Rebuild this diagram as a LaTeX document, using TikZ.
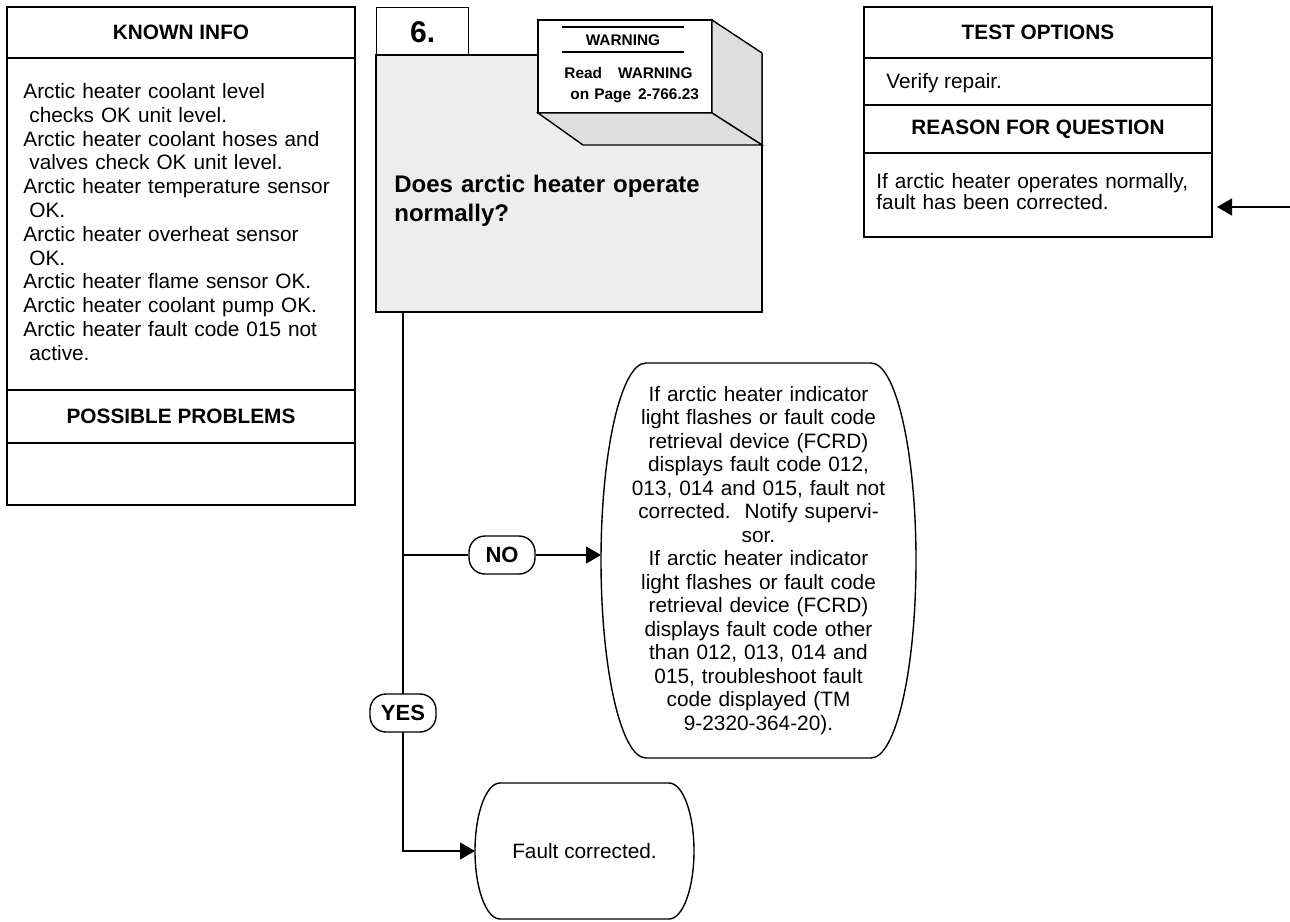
\documentclass[tikz,border=0pt]{standalone}
\usepackage{fontspec}
\setmainfont{Liberation Sans}
\usetikzlibrary{arrows.meta,positioning,calc}
\tikzset{cell/.style={draw,line width=0.7pt,minimum width=174pt,inner sep=0pt,outer sep=0pt,font=\fontsize{10.4}{12}\bfseries},
txt/.style={inner sep=0pt,align=left,font=\fontsize{10.4}{11.9}\selectfont},
lbl/.style={draw,fill=white,line width=0.7pt,rounded corners=8pt,minimum width=33pt,minimum height=19pt,inner sep=0pt,font=\fontsize{11}{13}\bfseries},
term/.style={inner sep=0pt,outer sep=0pt,align=center,font=\fontsize{10.4}{11.75}\selectfont},
warntxt/.style={inner sep=0pt,font=\fontsize{7.7}{10.5}\bfseries},
edge/.style={line width=0.7pt},
arr/.style={edge,-{Triangle[length=7.5pt,width=8.5pt]}}}
\newcommand\cont{\hspace*{3pt}}
% flat top and bottom, half-ellipse sides: node, side radius, half height
\newcommand\termoutline[3]{\draw[edge] ([xshift=#2]#1.north west) -- ([xshift=-#2]#1.north east)
  arc[start angle=90,end angle=-90,x radius=#2,y radius=#3] -- ([xshift=#2]#1.south west)
  arc[start angle=270,end angle=90,x radius=#2,y radius=#3] -- cycle;}
\begin{document}
\begin{tikzpicture}[x=0.5pt,y=-0.5pt]
\useasboundingbox (0,0) rectangle (1290,921);
% left panel
\node[cell,anchor=north west,minimum height=25.5pt](known)at(7,7){KNOWN INFO};
\node[cell,below=0pt of known,minimum height=166pt](knownbody){};
\node[cell,below=0pt of knownbody,minimum height=26.5pt](possible){POSSIBLE PROBLEMS};
\node[cell,below=0pt of possible,minimum height=31pt](possiblebody){};
\node[txt,text width=165pt,anchor=base west](knowntext)at([xshift=8pt,yshift=-20.25pt]knownbody.north west){Arctic heater coolant level\\\cont checks OK unit level.\\Arctic heater coolant hoses and\\\cont valves check OK unit level.\\Arctic heater temperature sensor\\\cont OK.\\Arctic heater overheat sensor\\\cont OK.\\Arctic heater flame sensor OK.\\Arctic heater coolant pump OK.\\Arctic heater fault code 015 not\\\cont active.};
% right panel
\node[cell,anchor=north west,minimum height=25.5pt](testhead)at(864,7){TEST OPTIONS};
\node[cell,below=0pt of testhead,minimum height=23.5pt](verify){};
\node[cell,below=0pt of verify,minimum height=24pt](reason){REASON FOR QUESTION};
\node[cell,below=0pt of reason,minimum height=42pt](reasonbody){};
\node[txt,anchor=base west](verifytext)at([xshift=11pt,yshift=-3.5pt]verify.west){Verify repair.};
\node[txt,text width=170pt,anchor=base west,font=\fontsize{10.4}{10.6}\selectfont](reasontext)at([xshift=6pt,yshift=-17.75pt]reasonbody.north west){If arctic heater operates normally,\\fault has been corrected.};
% step 6 with its warning tag
\node[draw,line width=0.7pt,anchor=north west,minimum width=46pt,minimum height=24pt,inner sep=0pt,font=\fontsize{15}{18}\bfseries](stepno)at(376,7){6.};
\node[draw,line width=0.7pt,fill=black!7,anchor=north west,minimum width=193pt,minimum height=128.5pt,inner sep=0pt,outer sep=0pt](query)at(376,55){};
\node[draw,line width=0.7pt,fill=white,anchor=north west,minimum width=87pt,minimum height=46.5pt,inner sep=0pt,outer sep=0pt](warn)at(538,20){};
\draw[edge,fill=black!13](warn.north east)--($(warn.north east)+(50,33)$)--($(warn.south east)+(50,32)$)--(warn.south east)--cycle;
\draw[edge,fill=black!13](warn.south west)--(warn.south east)--($(warn.south east)+(50,32)$)--($(warn.south west)+(45,32)$)--cycle;
\draw[edge]([shift={(24,7)}]warn.north west)--([shift={(-28,7)}]warn.north east);
\draw[edge]([shift={(24,32)}]warn.north west)--([shift={(-28,32)}]warn.north east);
\node[warntxt](warnhead)at(623,40){WARNING};
\node[warntxt,text width=70pt,align=left,anchor=base west](warnref)at(564,78){Read\hspace{8pt}WARNING\\\cont on Page\hspace{3.5pt}2-766.23};
\node[txt,text width=170pt,anchor=base west,font=\fontsize{12}{14.5}\bfseries](question)at(394,192){Does arctic heater operate\\normally?};
% answers
\node[term,text width=130pt,minimum width=157.5pt,minimum height=197.5pt](notok)at(758.5,560.5){If arctic heater indicator\\light flashes or fault code\\retrieval device (FCRD)\\displays fault code 012,\\013, 014 and 015, fault not\\corrected.\ \ Notify supervi-\\sor.\\If arctic heater indicator\\light flashes or fault code\\retrieval device (FCRD)\\displays fault code other\\than 012, 013, 014 and\\015, troubleshoot fault\\code displayed (TM\\9-2320-364-20).};
\termoutline{notok}{22.5pt}{98.75pt}
\node[term,minimum width=109.5pt,minimum height=68pt](fixed)at(584.5,851){Fault corrected.};
\termoutline{fixed}{12.5pt}{34pt}
% flow lines
\coordinate(trunk)at([xshift=13.5pt]query.south west);
\coordinate(inlet)at(1290,207);
\draw[arr](trunk)|-(fixed.west);
\node[lbl](yes)at(403,713){YES};
\node[lbl](nolbl)at(502,555){NO};
\draw[edge](trunk|-nolbl)--(nolbl);
\draw[arr](nolbl)--(nolbl-|notok.west);
\draw[arr,shorten >=2.5pt](inlet)--(inlet-|reasonbody.east);
\end{tikzpicture}
\end{document}
